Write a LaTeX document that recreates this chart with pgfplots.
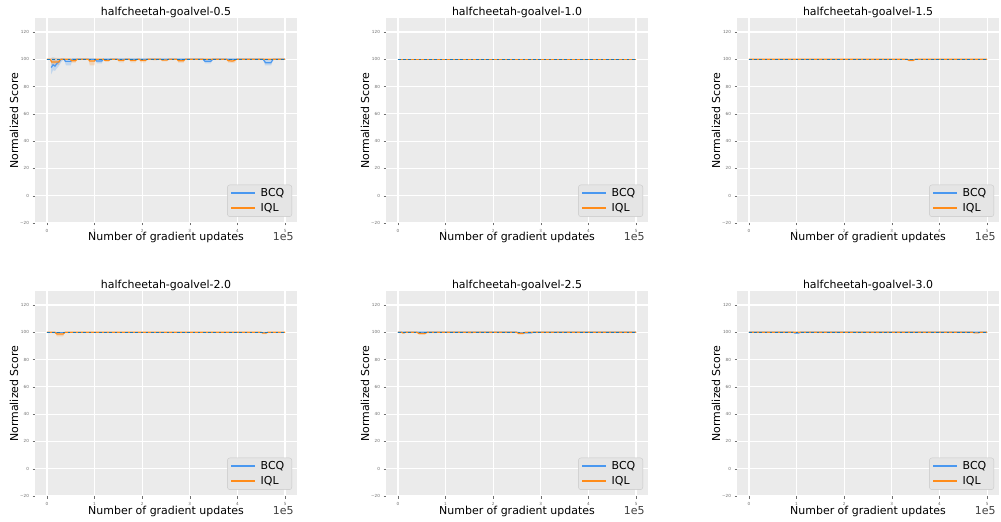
\documentclass[border=0pt]{standalone}
\usepackage{fontspec}
\setmainfont{DejaVu Sans}
\usepackage{pgfplots}
\pgfplotsset{compat=1.18}

\definecolor{bgc}{RGB}{235,235,235}
\definecolor{bcq}{RGB}{74,152,240}
\definecolor{iql}{RGB}{255,140,26}
\definecolor{tabblue}{RGB}{31,119,180}
\definecolor{ticklab}{RGB}{110,110,110}
\definecolor{legfill}{RGB}{229,229,229}
\definecolor{legdraw}{RGB}{200,200,200}

% shaded band: colour, x1, a, b, x2, upper, lower
\newcommand{\band}[7]{%
  \addplot[fill=#1, fill opacity=0.25, draw=none, forget plot]
    coordinates {(#2,100)(#3,#6)(#4,#6)(#5,100)(#4,#7)(#3,#7)};}

\tikzset{
  bcqline/.style={color=bcq, line width=1.2bp},
  iqlline/.style={color=iql, line width=1.2bp},
  refline/.style={color=tabblue, line width=1.2bp, dash pattern=on 2.6bp off 2.6bp},
}

\pgfplotsset{
  panel/.style={
    scale only axis, width=262bp, height=205bp,
    xmin=-0.25, xmax=5.25, ymin=-20, ymax=130.3,
    axis background/.style={fill=bgc},
    axis line style={draw=none},
    grid=major, major grid style={white, line width=1.2bp},
    xtick={0,1,2,3,4,5}, ytick={-20,0,20,40,60,80,100,120},
    xticklabels={0,1,2,3,4,5},
    yticklabels={−20,0,20,40,60,80,100,120},
    tick align=outside, major tick length=2.5bp,
    tick style={ticklab, line width=0.4bp},
    xtick pos=left, ytick pos=left,
    ticklabel style={font=\fontsize{4.2}{5}\selectfont, text=ticklab},
    /pgf/number format/assume math mode=true,
    title style={font=\fontsize{11}{13}\selectfont, at={(0.5,1)}, anchor=base, yshift=-3bp},
    xlabel={Number of gradient updates},
    ylabel={Normalized Score},
    xlabel style={font=\fontsize{11}{13}\selectfont, at={([yshift=-18bp]axis description cs:0.5,0)}, anchor=base},
    ylabel style={font=\fontsize{11}{13}\selectfont, at={([xshift=-17bp]axis description cs:0,0.5)}, anchor=base},
    legend style={at={(0.981,0.03)}, anchor=south east, fill=legfill, draw=legdraw,
      rounded corners=2.5bp, font=\fontsize{11}{13}\selectfont,
      inner xsep=3bp, inner ysep=2bp, row sep=2.5bp,
      nodes={inner xsep=4.5bp, inner ysep=1.5bp}},
    legend cell align=left,
    legend image code/.code={\draw[#1, line width=1.8bp] (0bp,0bp) -- (24bp,0bp);},
    clip mode=individual,
  },
}

\newcommand{\onefive}{\node[anchor=base east, font=\fontsize{11}{13}\selectfont, text=black!75]
  at ([yshift=-18bp]rel axis cs:1,0) {1e5};}

\begin{document}
\begin{tikzpicture}
\useasboundingbox (0bp,0bp) rectangle (1001bp,522bp);

% ---------- halfcheetah-goalvel-0.5 ----------
\begin{axis}[panel, at={(35bp,299bp)}, anchor=south west, title={halfcheetah-goalvel-0.5}]
\addplot[fill=bcq, fill opacity=0.25, draw=none, forget plot] coordinates {(0.09,101)(0.13,101.5)(0.17,101)(0.21,100.5)(0.25,100.5)(0.30,100.3)(0.35,100)(0.30,98)(0.25,95)(0.21,93.5)(0.17,91.5)(0.13,92)(0.09,89)};
\band{bcq}{0.36}{0.40}{0.50}{0.54}{100.6}{95.5}
\band{bcq}{1.01}{1.05}{1.15}{1.19}{100.3}{97}
\band{bcq}{3.28}{3.32}{3.44}{3.48}{100.2}{97}
\band{bcq}{4.54}{4.58}{4.71}{4.75}{100.2}{95.5}
\band{iql}{0.07}{0.10}{0.25}{0.28}{101}{96}
\band{iql}{0.49}{0.52}{0.60}{0.63}{100.6}{97.5}
\band{iql}{0.87}{0.90}{1.00}{1.02}{100.5}{95.5}
\band{iql}{1.19}{1.22}{1.30}{1.33}{100.3}{98.5}
\band{iql}{1.48}{1.51}{1.61}{1.64}{100.3}{97.8}
\band{iql}{1.73}{1.76}{1.86}{1.89}{100.3}{97.8}
\band{iql}{1.94}{1.97}{2.07}{2.10}{100.3}{97.8}
\band{iql}{2.20}{2.23}{2.31}{2.34}{100.2}{99.2}
\band{iql}{2.39}{2.42}{2.52}{2.55}{100.3}{98.5}
\band{iql}{2.73}{2.76}{2.87}{2.90}{100.3}{97.5}
\band{iql}{3.77}{3.81}{3.94}{3.98}{100.3}{97.5}
\addplot[bcqline] coordinates {(0.09,94)(0.13,96)(0.17,95)(0.21,97)(0.25,98)(0.30,100)(0.36,100)(0.39,98.5)(0.50,98.5)(0.53,100)(1.01,100)(1.04,98.7)(1.15,98.7)(1.18,100)(3.28,100)(3.32,98.6)(3.44,98.6)(3.48,100)(4.54,100)(4.59,97.5)(4.70,97.5)(4.75,100)(5,100)};
\addlegendentry{BCQ}
\addplot[iqlline] coordinates {(0,100)(0.07,100)(0.10,98)(0.25,98)(0.28,100)(0.49,100)(0.52,99)(0.60,99)(0.63,100)(0.87,100)(0.90,98.8)(1.00,98.8)(1.02,100)(1.19,100)(1.22,99.2)(1.30,99.2)(1.33,100)(1.48,100)(1.51,99.3)(1.61,99.3)(1.64,100)(1.73,100)(1.76,99.3)(1.86,99.3)(1.89,100)(1.94,100)(1.97,99.3)(2.07,99.3)(2.10,100)(2.39,100)(2.42,99.5)(2.52,99.5)(2.55,100)(2.73,100)(2.76,99)(2.87,99)(2.90,100)(3.77,100)(3.81,99)(3.90,98.7)(3.98,100)(5,100)};
\addlegendentry{IQL}
\addplot[refline, forget plot] coordinates {(0,100)(5,100)};
\onefive
\end{axis}

% ---------- halfcheetah-goalvel-1.0 ----------
\begin{axis}[panel, at={(386bp,299bp)}, anchor=south west, title={halfcheetah-goalvel-1.0}]
\addplot[bcqline] coordinates {(0,100)(5,100)};
\addlegendentry{BCQ}
\addplot[iqlline] coordinates {(0,100)(5,100)};
\addlegendentry{IQL}
\addplot[refline, forget plot] coordinates {(0,100)(5,100)};
\onefive
\end{axis}

% ---------- halfcheetah-goalvel-1.5 ----------
\begin{axis}[panel, at={(737bp,299bp)}, anchor=south west, title={halfcheetah-goalvel-1.5}]
\band{iql}{3.32}{3.36}{3.45}{3.49}{100.3}{98.5}
\addplot[bcqline] coordinates {(0,100)(5,100)};
\addlegendentry{BCQ}
\addplot[iqlline] coordinates {(0,100)(3.32,100)(3.36,99.3)(3.45,99.3)(3.49,100)(5,100)};
\addlegendentry{IQL}
\addplot[refline, forget plot] coordinates {(0,100)(5,100)};
\onefive
\end{axis}

% ---------- halfcheetah-goalvel-2.0 ----------
\begin{axis}[panel, at={(35bp,26bp)}, anchor=south west, title={halfcheetah-goalvel-2.0}]
\band{bcq}{0.10}{0.14}{0.26}{0.30}{100.2}{99.4}
\band{iql}{0.17}{0.21}{0.34}{0.38}{100.4}{97}
\band{iql}{4.50}{4.53}{4.60}{4.63}{100.3}{98.7}
\addplot[bcqline] coordinates {(0,100)(5,100)};
\addlegendentry{BCQ}
\addplot[iqlline] coordinates {(0,100)(0.17,100)(0.21,98.8)(0.34,98.8)(0.38,100)(4.50,100)(4.53,99.5)(4.60,99.5)(4.63,100)(5,100)};
\addlegendentry{IQL}
\addplot[refline, forget plot] coordinates {(0,100)(5,100)};
\onefive
\end{axis}

% ---------- halfcheetah-goalvel-2.5 ----------
\begin{axis}[panel, at={(386bp,26bp)}, anchor=south west, title={halfcheetah-goalvel-2.5}]
\band{bcq}{0.60}{0.64}{0.81}{0.85}{100.2}{99.5}
\band{bcq}{2.50}{2.55}{2.79}{2.84}{100.2}{99}
\band{iql}{0.08}{0.10}{0.13}{0.15}{100.3}{98.8}
\band{iql}{0.40}{0.44}{0.57}{0.61}{100.4}{98.3}
\band{iql}{1.45}{1.48}{1.57}{1.60}{100.2}{99.3}
\band{iql}{2.49}{2.53}{2.63}{2.67}{100.3}{98.3}
\addplot[bcqline] coordinates {(0,100)(2.50,100)(2.55,99.6)(2.79,99.6)(2.84,100)(5,100)};
\addlegendentry{BCQ}
\addplot[iqlline] coordinates {(0,100)(0.08,100)(0.10,99.6)(0.13,99.6)(0.15,100)(0.40,100)(0.44,99.2)(0.57,99.2)(0.61,100)(2.49,100)(2.53,99.3)(2.63,99.3)(2.67,100)(5,100)};
\addlegendentry{IQL}
\addplot[refline, forget plot] coordinates {(0,100)(5,100)};
\onefive
\end{axis}

% ---------- halfcheetah-goalvel-3.0 ----------
\begin{axis}[panel, at={(737bp,26bp)}, anchor=south west, title={halfcheetah-goalvel-3.0}]
\band{bcq}{0.93}{0.97}{1.04}{1.08}{100.2}{98.8}
\band{iql}{2.60}{2.64}{2.76}{2.80}{100.2}{99.5}
\band{iql}{4.70}{4.74}{4.81}{4.85}{100.2}{99.3}
\addplot[bcqline] coordinates {(0,100)(0.93,100)(0.97,99.5)(1.04,99.5)(1.08,100)(5,100)};
\addlegendentry{BCQ}
\addplot[iqlline] coordinates {(0,100)(4.70,100)(4.74,99.6)(4.81,99.6)(4.85,100)(5,100)};
\addlegendentry{IQL}
\addplot[refline, forget plot] coordinates {(0,100)(5,100)};
\onefive
\end{axis}
\end{tikzpicture}
\end{document}
